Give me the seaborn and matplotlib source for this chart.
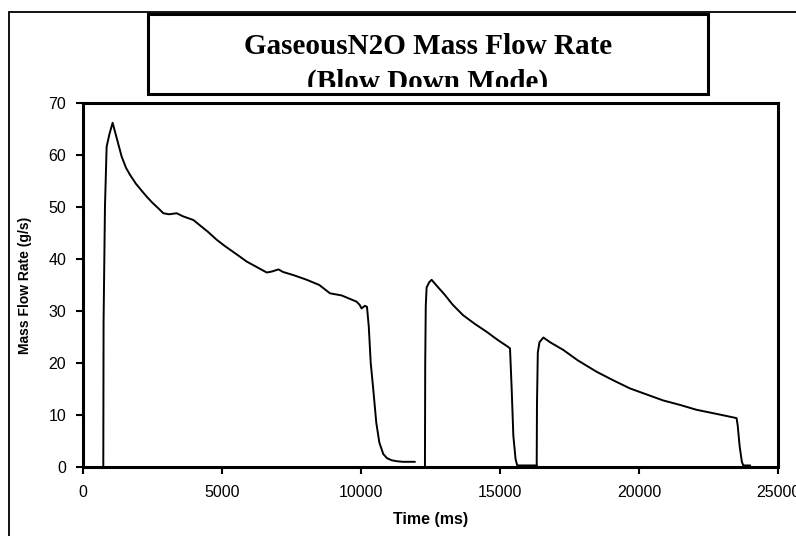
import matplotlib
matplotlib.use("Agg")
import matplotlib.pyplot as plt
import seaborn as sns
import pandas as pd
from matplotlib.patches import Rectangle

# ---- data ----
seg1_t = [730, 740, 790, 850, 950, 1065, 1200, 1390, 1550, 1690, 1900, 2100, 2290,
          2500, 2700, 2890, 3100, 3370, 3600, 3970, 4200, 4500, 4810, 5100, 5500,
          5890, 6200, 6610, 6800, 7030, 7200, 7570, 8050, 8500, 8885, 9300, 9840,
          9950, 10020, 10140, 10215, 10280, 10350, 10440, 10550, 10660, 10800,
          10935, 11100, 11300, 11500, 11700, 11940]
seg1_v = [0, 28, 50, 61.6, 64, 66.2, 63.5, 59.7, 57.5, 56.2, 54.5, 53.2, 52,
          50.8, 49.8, 48.8, 48.6, 48.8, 48.2, 47.5, 46.5, 45.2, 43.7, 42.5, 41,
          39.5, 38.6, 37.4, 37.6, 38.0, 37.5, 36.9, 36, 35, 33.4, 33, 31.8,
          31.2, 30.5, 31, 30.8, 27, 20, 15, 8.5, 4.7, 2.5,
          1.7, 1.3, 1.1, 1.0, 1.0, 1.0]

seg2_t = [12300, 12310, 12330, 12360, 12450, 12540, 12700, 13000, 13300, 13670,
          14100, 14520, 14900, 15290, 15360, 15420, 15480, 15560, 15620, 16320]
seg2_v = [0, 20, 31, 34.5, 35.5, 36, 35, 33.2, 31.2, 29.2,
          27.5, 26, 24.5, 23.1, 22.8, 15, 6, 1.5, 0.3, 0.3]

seg3_t = [16320, 16330, 16360, 16420, 16560, 16800, 17280, 17800, 18480, 19100,
          19680, 20300, 20870, 21500, 22070, 22800, 23510, 23550, 23620, 23700,
          23750, 24000]
seg3_v = [0.3, 12, 22, 24, 24.9, 24, 22.5, 20.5, 18.3, 16.6,
          15.1, 13.9, 12.8, 11.9, 11.0, 10.2, 9.4, 8, 4, 1,
          0.3, 0.3]

x_ticks = [0, 5000, 10000, 15000, 20000, 25000]
y_ticks = [0, 10, 20, 30, 40, 50, 60, 70]

title_line1 = "GaseousN2O Mass Flow Rate"
title_line2 = "(Blow Down Mode)"
x_label = "Time (ms)"
y_label = "Mass Flow Rate (g/s)"

# ---- plot ----
sns.set_style("white")
plt.rcParams['font.family'] = ['Liberation Sans', 'DejaVu Sans']
for k in ["text.color", "axes.labelcolor", "xtick.color", "ytick.color"]:
    plt.rcParams[k] = "black"

W, H = 796, 536
fig = plt.figure(figsize=(W / 100, H / 100), dpi=100)
fig.patch.set_facecolor("white")

# outer frame (clipped on right and bottom)
frame = Rectangle((9 / W, -0.05), 1.1, 1 - 12 / H + 0.05, transform=fig.transFigure,
                  fill=False, edgecolor="black", linewidth=1.3)
fig.patches.append(frame)

ax_l, ax_r, ax_t, ax_b = 83, 778, 103, 467
ax = fig.add_axes([ax_l / W, 1 - ax_b / H, (ax_r - ax_l) / W, (ax_b - ax_t) / H])

for t, v in [(seg1_t, seg1_v), (seg2_t, seg2_v), (seg3_t, seg3_v)]:
    df = pd.DataFrame({"t": t, "v": v})
    sns.lineplot(data=df, x="t", y="v", ax=ax, color="black", linewidth=1.4,
                 sort=False, estimator=None)

ax.set_xlim(0, 25000)
ax.set_ylim(0, 70)
ax.set_xticks(x_ticks)
ax.set_yticks(y_ticks)
ax.set_xticklabels([str(v) for v in x_ticks])
ax.set_yticklabels([str(v) for v in y_ticks])
ax.tick_params(direction="out", length=5, width=1.5, labelsize=11.5,
               bottom=True, left=True, colors="black")
ax.tick_params(axis="x", pad=8)
ax.tick_params(axis="y", pad=7)
for s in ax.spines.values():
    s.set_visible(True)
    s.set_color("black")
    s.set_linewidth(2.2)

ax.set_xlabel(x_label, fontsize=11.5, fontweight="bold")
ax.set_ylabel(y_label, fontsize=10, fontweight="bold")
ax.xaxis.set_label_coords(0.5, -(512 - ax_b) / (ax_b - ax_t))
ax.yaxis.set_label_coords((32 - ax_l) / (ax_r - ax_l), 0.5)
ax.grid(False)

# title box
box = Rectangle((148 / W, 1 - 94 / H), (708 - 148) / W, (94 - 14) / H,
                transform=fig.transFigure, facecolor="white", edgecolor="black",
                linewidth=2.2)
fig.patches.append(box)
clip_rect = Rectangle((148 / W, 1 - 87 / H), (708 - 148) / W, (87 - 14) / H,
                      transform=fig.transFigure, visible=False)
tfam = ['Liberation Serif', 'DejaVu Serif']
fig.text(428 / W, 1 - 54 / H, title_line1, ha="center", va="baseline",
         fontsize=21, fontweight="bold", family=tfam)
t2 = fig.text(428 / W, 1 - 90 / H, title_line2, ha="center", va="baseline",
              fontsize=21, fontweight="bold", family=tfam)
t2.set_clip_on(True)
t2.set_clip_path(clip_rect)

fig.savefig("out.png", dpi=100)
